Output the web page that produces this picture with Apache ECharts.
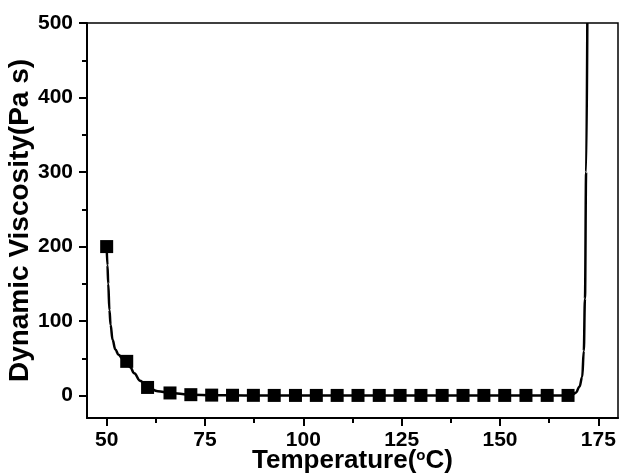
<!DOCTYPE html>
<html>
<head>
<meta charset="utf-8">
<script src="https://cdn.jsdelivr.net/npm/echarts@6/dist/echarts.min.js"></script>
<style>
  html, body { margin: 0; padding: 0; background: #fff; }
  #chart { width: 619px; height: 474px; }
</style>
</head>
<body>
<div id="chart"></div>
<script>
// measured points (squares)
const tempPoints = [50, 55.1, 60.4, 66.1, 71.4, 76.7, 82.0, 87.3, 92.6, 98.0, 103.3, 108.6,
  113.9, 119.3, 124.6, 129.9, 135.3, 140.6, 145.9, 151.2, 156.6, 162.0, 167.3];
const viscPoints = [200, 46, 11, 3.6, 1.3, 0.7, 0.5, 0.4, 0.3, 0.3, 0.3, 0.3,
  0.3, 0.3, 0.3, 0.3, 0.3, 0.3, 0.3, 0.3, 0.3, 0.3, 0.3];

// fitted curve
const curveTemp = [50, 50.2, 50.4, 50.7, 51, 51.5, 52.2, 53, 54, 55, 56, 57, 58.5, 60.4, 63, 66,
  71.4, 77, 85, 167.3, 168.3, 169.3, 170.2, 170.9, 171.3, 171.6, 171.9, 172.2];
const curveVisc = [200, 175, 150, 115, 95, 75, 62, 55, 50, 46, 38, 30, 20, 11, 6, 3.6,
  1.3, 0.6, 0.3, 0.3, 1, 4, 12, 25, 60, 130, 300, 500];

const xTicks = [50, 75, 100, 125, 150, 175];
const xMinor = [62.5, 87.5, 112.5, 137.5, 162.5];
const yTicks = [0, 100, 200, 300, 400, 500];
const yMinor = [50, 150, 250, 350, 450];

const chart = echarts.init(document.getElementById('chart'));
const font = '"Liberation Sans", Arial, sans-serif';

const option = {
  animation: false,
  grid: {
    left: 87, top: 23, right: 1, bottom: 56,
    outerBoundsMode: 'none', containLabel: false,
    show: true, borderColor: '#000', borderWidth: 1.5, backgroundColor: 'transparent'
  },
  xAxis: [{
    type: 'value', min: 45, max: 180,
    name: 'Temperature({s|o}C)',
    nameLocation: 'middle', nameGap: 30, nameMoveOverlap: false,
    nameTextStyle: {
      fontFamily: font, fontWeight: 'bold', fontSize: 26, color: '#000',
      rich: { s: { fontFamily: font, fontWeight: 'bold', fontSize: 15, color: '#000', verticalAlign: 'top', lineHeight: 14, padding: [0, 0, 10, 0] } }
    },
    axisLine: { show: true, onZero: false, lineStyle: { color: '#000', width: 2 } },
    axisTick: { show: true, inside: false, length: 8, customValues: xTicks, lineStyle: { color: '#000', width: 2 } },
    axisLabel: { customValues: xTicks, margin: 12, fontFamily: font, fontWeight: 'bold', fontSize: 21, color: '#000' },
    splitLine: { show: false }
  }, {
    type: 'value', min: 45, max: 180, position: 'bottom',
    axisLine: { show: false, onZero: false },
    axisTick: { show: true, length: 5, customValues: xMinor, lineStyle: { color: '#000', width: 2 } },
    axisLabel: { show: false },
    splitLine: { show: false }
  }],
  yAxis: [{
    type: 'value', min: -30, max: 500,
    name: 'Dynamic Viscosity(Pa s)',
    nameLocation: 'middle', nameGap: 53, nameMoveOverlap: false,
    nameTextStyle: { fontFamily: font, fontWeight: 'bold', fontSize: 28, color: '#000' },
    axisLine: { show: true, onZero: false, lineStyle: { color: '#000', width: 2 } },
    axisTick: { show: true, length: 8, customValues: yTicks, lineStyle: { color: '#000', width: 2 } },
    axisLabel: { customValues: yTicks, margin: 14, fontFamily: font, fontWeight: 'bold', fontSize: 21, color: '#000' },
    splitLine: { show: false }
  }, {
    type: 'value', min: -30, max: 500, position: 'left',
    axisLine: { show: false, onZero: false },
    axisTick: { show: true, length: 5, customValues: yMinor, lineStyle: { color: '#000', width: 2 } },
    axisLabel: { show: false },
    splitLine: { show: false }
  }],
  series: [{
    type: 'line',
    data: curveTemp.map((t, i) => [t, curveVisc[i]]),
    smooth: 0.4,
    smoothMonotone: 'x',
    showSymbol: false,
    lineStyle: { color: '#000', width: 2.5 },
    clip: true,
    z: 2
  }, {
    type: 'scatter',
    data: tempPoints.map((t, i) => [t, viscPoints[i]]),
    symbol: 'rect',
    symbolSize: 13,
    itemStyle: { color: '#000', opacity: 1 },
    z: 3
  }]
};

chart.setOption(option);
</script>
</body>
</html>
